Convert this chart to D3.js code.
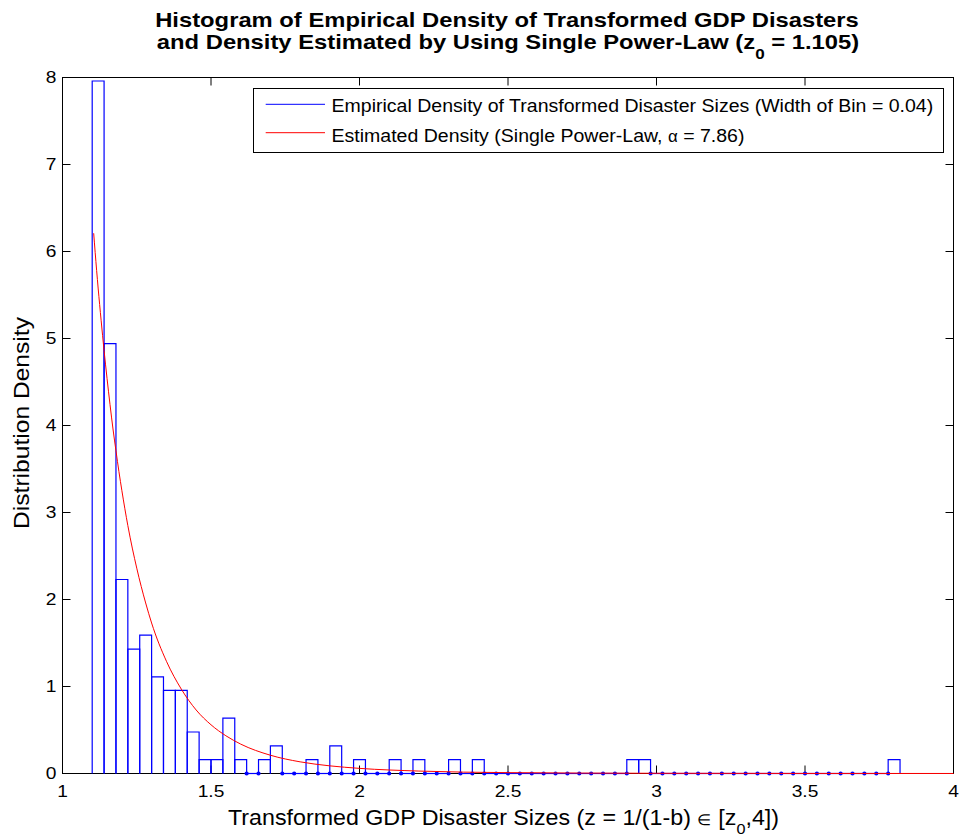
<!DOCTYPE html>
<html><head><meta charset="utf-8">
<script src="https://cdn.jsdelivr.net/npm/d3@7"></script>
<style>body{margin:0;background:#fff;overflow:hidden}</style>
</head><body>
<svg id="c" width="964" height="840"></svg>
<script>
// ---------- data ----------
const binStart = 1.10;
const binWidth = 0.04;
const binDensities = [
  7.96, 4.94, 2.23, 1.43, 1.59, 1.11, 0.955, 0.955, 0.477, 0.159,
  0.159, 0.637, 0.159, 0, 0.159, 0.318, 0, 0, 0.159, 0,
  0.318, 0, 0.159, 0, 0, 0.159, 0, 0.159, 0, 0,
  0.159, 0, 0.159, 0, 0, 0, 0, 0, 0, 0,
  0, 0, 0, 0, 0, 0.159, 0.159, 0, 0, 0,
  0, 0, 0, 0, 0, 0, 0, 0, 0, 0,
  0, 0, 0, 0, 0, 0, 0, 0.159
];
const curveZ = [1.105, 1.11, 1.12, 1.13, 1.14, 1.15, 1.16, 1.17, 1.18, 1.19, 1.20, 1.22, 1.25, 1.28, 1.30, 1.35, 1.40, 1.45, 1.50, 1.55, 1.60, 1.70, 1.80, 1.90, 2.00, 2.20, 2.50, 3.00, 3.50, 4.00];
const curveDensity = [6.21, 5.99, 5.58, 5.21, 4.86, 4.54, 4.24, 3.96, 3.71, 3.47, 3.25, 2.85, 2.36, 1.96, 1.73, 1.29, 0.97, 0.73, 0.56, 0.434, 0.338, 0.210, 0.134, 0.088, 0.059, 0.028, 0.010, 0.0024, 0.0007, 0.0002];
const xTickValues = [1, 1.5, 2, 2.5, 3, 3.5, 4];
const xTickLabels = ["1", "1.5", "2", "2.5", "3", "3.5", "4"];
const yTickValues = [0, 1, 2, 3, 4, 5, 6, 7, 8];
const yTickLabels = ["0", "1", "2", "3", "4", "5", "6", "7", "8"];
const titleLine1 = [["Histogram of Empirical Density of Transformed GDP Disasters", false]];
const titleLine2 = [["and Density Estimated by Using Single Power-Law (z", false], ["0", true], [" = 1.105)", false]];
const xLabelParts = [["Transformed GDP Disaster Sizes (z = 1/(1-b) ", false], ["\u2208", false, 15], [" [z", false], ["0", true], [",4])", false]];
const yLabelParts = [["Distribution Density", false]];
const legendLabels = [
  [["Empirical Density of Transformed Disaster Sizes (Width of Bin = 0.04)", false]],
  [["Estimated Density (Single Power-Law, ", false], ["\u03B1", false, 16], [" = 7.86)", false]]
];
const seriesColors = ["#0000ff", "#ff0000"];

// ---------- layout ----------
const FONT = "'Liberation Sans', Arial, Helvetica, sans-serif";
const L = 62.5, R = 953.5, T = 77.5, B = 773.5;
const svg = d3.select("#c");
svg.append("rect").attr("width", 964).attr("height", 840).attr("fill", "#fff");

const xScale = d3.scaleLinear().domain([1, 4]).range([L, R]);
const yScale = d3.scaleLinear().domain([0, 8]).range([B, T]);

function richText(parent, px, py, parts, o) {
  const g = parent.append("g");
  const t = g.append("text")
    .attr("font-family", FONT)
    .attr("font-size", o.size)
    .attr("font-weight", o.bold ? "bold" : "normal")
    .attr("text-anchor", o.anchor || "start")
    .attr("fill", "#000");
  let prevSub = false;
  parts.forEach(([s, sub, sz]) => {
    const ts = t.append("tspan").text(s);
    if (sz) ts.attr("font-size", sz);
    if (sub) { ts.attr("font-size", o.subSize).attr("dy", o.subShift); }
    else if (prevSub) { ts.attr("dy", -o.subShift); }
    prevSub = sub;
  });
  const w = t.node().getComputedTextLength();
  const sx = o.width ? o.width / w : (o.sx || 1);
  g.attr("transform", `translate(${px},${py}) rotate(${o.rotate || 0}) scale(${sx},1)`);
  return sx;
}

// ---------- axes box & ticks ----------
const axesG = svg.append("g");
axesG.append("rect").attr("x", L).attr("y", T).attr("width", R - L).attr("height", B - T)
  .attr("fill", "none").attr("stroke", "#000").attr("stroke-width", 1);

axesG.append("g").attr("transform", `translate(0,${B})`)
  .call(d3.axisBottom(xScale).tickValues(xTickValues).tickFormat("").tickSizeInner(-8).tickSizeOuter(0).offset(0));
axesG.append("g").attr("transform", `translate(0,${T})`)
  .call(d3.axisTop(xScale).tickValues(xTickValues).tickFormat("").tickSizeInner(-8).tickSizeOuter(0).offset(0));
axesG.append("g").attr("transform", `translate(${L},0)`)
  .call(d3.axisLeft(yScale).tickValues(yTickValues).tickFormat("").tickSizeInner(-8).tickSizeOuter(0).offset(0));
axesG.append("g").attr("transform", `translate(${R},0)`)
  .call(d3.axisRight(yScale).tickValues(yTickValues).tickFormat("").tickSizeInner(-8).tickSizeOuter(0).offset(0));
axesG.selectAll(".domain").remove();
axesG.selectAll(".tick line").attr("stroke", "#000");
axesG.selectAll(".tick text").remove();

xTickValues.forEach((v, i) => {
  richText(svg, xScale(v), B + 23.5, [[xTickLabels[i], false]], { size: 16, anchor: "middle", sx: 1.2 });
});
yTickValues.forEach((v, i) => {
  richText(svg, L - 6, yScale(v) + 5.8, [[yTickLabels[i], false]], { size: 16, anchor: "end", sx: 1.2 });
});

// ---------- histogram ----------
const bins = binDensities.map((d, i) => ({ x0: binStart + i * binWidth, x1: binStart + (i + 1) * binWidth, d }));
const dataG = svg.append("g");
dataG.selectAll("path.bar").data(bins).join("path")
  .attr("class", "bar")
  .attr("d", b => `M${xScale(b.x0)},${yScale(0)}V${yScale(b.d)}H${xScale(b.x1)}V${yScale(0)}`)
  .attr("fill", "none")
  .attr("stroke", seriesColors[0])
  .attr("stroke-width", 1.2);

const dotXs = [];
bins.forEach(b => { if (b.d === 0) { dotXs.push(b.x0, b.x1); } });
dataG.selectAll("circle.dot").data(Array.from(new Set(dotXs.map(v => +v.toFixed(4))))).join("circle")
  .attr("class", "dot")
  .attr("cx", d => xScale(d)).attr("cy", yScale(0)).attr("r", 2.1)
  .attr("fill", seriesColors[0]);

// ---------- fitted curve ----------
const line = d3.line().x((d, i) => xScale(curveZ[i])).y(d => yScale(d)).curve(d3.curveMonotoneX);
dataG.append("path").attr("d", line(curveDensity))
  .attr("fill", "none").attr("stroke", seriesColors[1]).attr("stroke-width", 1);

// ---------- legend ----------
const lg = svg.append("g");
lg.append("rect").attr("x", 253.5).attr("y", 88.5).attr("width", 690).attr("height", 64)
  .attr("fill", "#fff").attr("stroke", "#000").attr("stroke-width", 1);
const legendY = [104.3, 132.7];
let legendSx = 1;
legendLabels.forEach((parts, i) => {
  lg.append("line").attr("x1", 265.7).attr("x2", 325).attr("y1", legendY[i]).attr("y2", legendY[i])
    .attr("stroke", seriesColors[i]).attr("stroke-width", 1);
  if (i === 0) legendSx = richText(lg, 331.5, legendY[i] + 7.4, parts, { size: 18.5, width: 602 });
  else richText(lg, 331.5, legendY[i] + 9, parts, { size: 18.5, sx: legendSx });
});

// ---------- titles & labels ----------
const tsx = richText(svg, 507, 27, titleLine1, { size: 19.5, bold: true, anchor: "middle", width: 704 });
richText(svg, 508, 48.5, titleLine2, { size: 19.5, bold: true, anchor: "middle", sx: tsx, subSize: 14, subShift: 10 });
richText(svg, 503.5, 825, xLabelParts, { size: 21.5, anchor: "middle", width: 551, subSize: 15, subShift: 9 });
richText(svg, 29, 423, yLabelParts, { size: 21.5, anchor: "middle", rotate: -90, width: 212 });
</script>
</body></html>
